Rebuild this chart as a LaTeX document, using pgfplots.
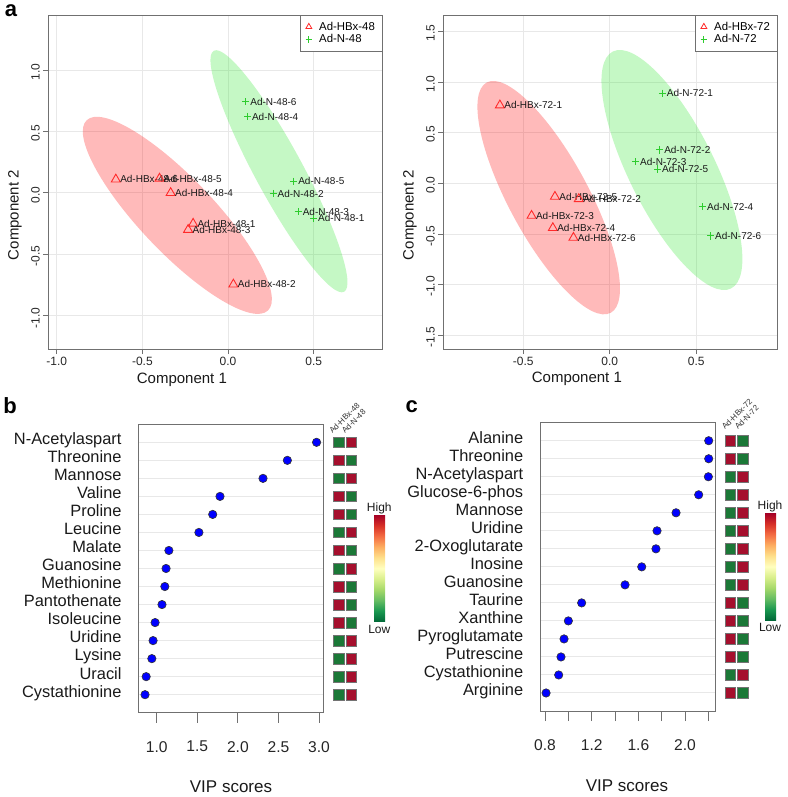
\documentclass[border=0pt]{standalone}
\usepackage{pgfplots}
\pgfplotsset{compat=1.18}
\usepackage{fontspec}
\setmainfont{Liberation Sans}
\definecolor{hmred}{HTML}{A50F2D}
\definecolor{hmgreen}{HTML}{1B7837}
\definecolor{ptred}{HTML}{FF2A2A}
\definecolor{ptgreen}{HTML}{2ECC2E}
\definecolor{gridc}{HTML}{E8E8E8}
\definecolor{framec}{HTML}{707070}
\definecolor{ellred}{HTML}{FF0000}
\definecolor{ellgreen}{HTML}{28E628}
\definecolor{c0}{HTML}{006837}
\definecolor{c1}{HTML}{1A9850}
\definecolor{c2}{HTML}{66BD63}
\definecolor{c3}{HTML}{A6D96A}
\definecolor{c4}{HTML}{D9EF8B}
\definecolor{c5}{HTML}{FFFFBF}
\definecolor{c6}{HTML}{FEE08B}
\definecolor{c7}{HTML}{FDAE61}
\definecolor{c8}{HTML}{F46D43}
\definecolor{c9}{HTML}{D73027}
\definecolor{c10}{HTML}{A50026}
\pgfdeclareverticalshading{rdylgn}{100bp}{color(0bp)=(c0); color(25bp)=(c0); color(30bp)=(c1); color(35bp)=(c2); color(40bp)=(c3); color(45bp)=(c4); color(50bp)=(c5); color(55bp)=(c6); color(60bp)=(c7); color(65bp)=(c8); color(70bp)=(c9); color(75bp)=(c10); color(100bp)=(c10)}
\pgfplotsset{
  /pgf/number format/assume math mode=true,
  pca/.style={scale only axis, width=334pt, height=334pt,
    axis line style={framec, line width=0.8pt},
    tick style={framec, line width=0.8pt}, tick align=outside, major tick length=5pt,
    xtick pos=bottom, ytick pos=left,
    grid=major, major grid style={gridc, line width=0.8pt},
    xticklabel style={font=\fontsize{12}{14}\selectfont, text=black!85,
      /pgf/number format/fixed, /pgf/number format/fixed zerofill, /pgf/number format/precision=1},
    yticklabel style={font=\fontsize{12}{14}\selectfont, text=black!85, rotate=90, anchor=south, xshift=-2pt,
      /pgf/number format/fixed, /pgf/number format/fixed zerofill, /pgf/number format/precision=1},
    label style={font=\fontsize{15}{18}\selectfont, text=black!90},
    legend style={at={(1,1)}, anchor=north east, draw=framec, line width=0.8pt,
      font=\fontsize{11.4}{13}\selectfont, inner xsep=5pt, inner ysep=4.5pt,
      cells={anchor=west}, row sep=-1pt,
      /tikz/every odd column/.append style={column sep=5pt}},
    legend image code/.code={\draw[#1] plot coordinates {(0pt,0pt)};},
  },
  hbx/.style={only marks, mark=triangle, mark size=5.2pt, ptred, line width=0.9pt,
    point meta=explicit symbolic, nodes near coords,
    nodes near coords style={text=black!90, anchor=west, inner sep=0pt, xshift=4pt, font=\fontsize{10}{12}\selectfont}},
  nn/.style={only marks, mark=+, mark size=3.6pt, ptgreen, line width=0.9pt,
    point meta=explicit symbolic, nodes near coords,
    nodes near coords style={text=black!90, anchor=west, inner sep=0pt, xshift=4pt, font=\fontsize{10}{12}\selectfont}},
  vip/.style={scale only axis, clip=false, ymin=0, ymax=16, ytick={1,...,15},
    axis line style={framec, line width=0.8pt},
    xtick pos=bottom, ytick pos=left, tick align=outside, major tick length=10pt,
    xtick style={framec, line width=0.8pt}, ytick style={draw=none},
    ymajorgrids, major grid style={gridc, line width=1pt},
    xticklabel style={font=\fontsize{15.6}{18}\selectfont, text=black!85, yshift=-15pt},
    yticklabel style={font=\fontsize{16.4}{19}\selectfont, text=black!90, anchor=east, inner sep=0pt,
      text height=11.7pt, text depth=3.4pt, xshift=-6.6pt, yshift=1.8pt},
    label style={font=\fontsize{17}{20}\selectfont, text=black!90},
  },
  dots/.style={only marks, mark=*, mark size=4.2pt, mark options={fill=blue, draw=black!80, line width=0.6pt}},
  sqr/.style={only marks, mark=square*, mark size=5.3pt, mark options={fill=hmred, draw=black!55, line width=0.6pt}},
  sqg/.style={only marks, mark=square*, mark size=5.3pt, mark options={fill=hmgreen, draw=black!55, line width=0.6pt}},
}
\begin{document}
\begin{tikzpicture}
\useasboundingbox (0,0) rectangle (787pt,-797pt);
% ---------------- panel a, left
\begin{axis}[pca, at={(48.3pt,-15pt)}, anchor=north west,
  xmin=-1.049, xmax=0.900, ymin=-1.271, ymax=1.448,
  xtick={-1,-0.5,0,0.5}, ytick={-1,-0.5,0,0.5,1},
  xlabel={Component 1}, ylabel={Component 2},
  xlabel style={at={(axis description cs:0.40,-0.093)}, anchor=center},
  ylabel style={at={(axis description cs:-0.100,0.401)}, anchor=center}]
\fill[ellred, fill opacity=0.27, rotate around={-46.4:(axis cs:-0.296,-0.183)}] (axis cs:-0.296,-0.183) ellipse [x radius=131.4pt, y radius=37.1pt];
\fill[ellgreen, fill opacity=0.27, rotate around={-61.6:(axis cs:0.297,0.176)}] (axis cs:0.297,0.176) ellipse [x radius=137pt, y radius=24pt];
\addlegendimage{only marks, mark=triangle, mark size=3.4pt, ptred, line width=0.8pt}
\addlegendentry{Ad-HBx-48}
\addlegendimage{only marks, mark=+, mark size=3.3pt, ptgreen, line width=1.1pt}
\addlegendentry{Ad-N-48}
\addplot[hbx, forget plot] table[meta=lab] {
x y lab
-0.655 0.110 Ad-HBx-48-6
-0.400 0.117 Ad-HBx-48-5
-0.335 0.000 Ad-HBx-48-4
-0.204 -0.250 Ad-HBx-48-1
-0.233 -0.300 Ad-HBx-48-3
0.031 -0.745 Ad-HBx-48-2
};
\addplot[nn, forget plot] table[meta=lab] {
x y lab
0.104 0.743 Ad-N-48-6
0.114 0.621 Ad-N-48-4
0.384 0.095 Ad-N-48-5
0.263 -0.005 Ad-N-48-2
0.410 -0.154 Ad-N-48-3
0.500 -0.208 Ad-N-48-1
};
\end{axis}
% ---------------- panel a, right
\begin{axis}[pca, at={(443.3pt,-15pt)}, anchor=north west,
  xmin=-0.962, xmax=0.968, ymin=-1.636, ymax=1.661,
  xtick={-0.5,0,0.5}, ytick={-1.5,-1,-0.5,0,0.5,1,1.5},
  xlabel={Component 1}, ylabel={Component 2},
  xlabel style={at={(axis description cs:0.40,-0.090)}, anchor=center},
  ylabel style={at={(axis description cs:-0.100,0.401)}, anchor=center}]
\fill[ellred, fill opacity=0.27, rotate around={-61.7:(axis cs:-0.353,-0.142)}] (axis cs:-0.353,-0.142) ellipse [x radius=130.8pt, y radius=39.9pt];
\fill[ellgreen, fill opacity=0.27, rotate around={-63.5:(axis cs:0.359,0.131)}] (axis cs:0.359,0.131) ellipse [x radius=132.4pt, y radius=42.9pt];
\addlegendimage{only marks, mark=triangle, mark size=3.4pt, ptred, line width=0.8pt}
\addlegendentry{Ad-HBx-72}
\addlegendimage{only marks, mark=+, mark size=3.3pt, ptgreen, line width=1.1pt}
\addlegendentry{Ad-N-72}
\addplot[hbx, forget plot] table[meta=lab] {
x y lab
-0.635 0.770 Ad-HBx-72-1
-0.317 -0.132 Ad-HBx-72-5
-0.179 -0.155 Ad-HBx-72-2
-0.452 -0.320 Ad-HBx-72-3
-0.329 -0.441 Ad-HBx-72-4
-0.210 -0.537 Ad-HBx-72-6
};
\addplot[nn, forget plot] table[meta=lab] {
x y lab
0.304 0.888 Ad-N-72-1
0.289 0.329 Ad-N-72-2
0.150 0.213 Ad-N-72-3
0.277 0.141 Ad-N-72-5
0.537 -0.231 Ad-N-72-4
0.583 -0.520 Ad-N-72-6
};
\end{axis}
% ---------------- panel b
\begin{axis}[vip, at={(138.3pt,-424.3pt)}, anchor=north west, width=185pt, height=288.4pt,
  xmin=0.773, xmax=3.053, xtick={1,1.5,2,2.5,3},
  xticklabels={1.0,1.5,2.0,2.5,3.0},
  yticklabels={Cystathionine,Uracil,Lysine,Uridine,Isoleucine,Pantothenate,Methionine,Guanosine,Malate,Leucine,Proline,Valine,Mannose,Threonine,N-Acetylaspart},
  xlabel={VIP scores}, xlabel style={at={(axis description cs:0.501,-0.258)}, anchor=center}]
\addplot[dots] table {
x y
2.970 15
2.610 14
2.310 13
1.780 12
1.690 11
1.520 10
1.150 9
1.115 8
1.100 7
1.065 6
0.980 5
0.955 4
0.940 3
0.870 2
0.856 1
};
\addplot[sqr] coordinates {(3.241,14) (3.241,12) (3.241,11) (3.241,9) (3.241,7) (3.241,6) (3.241,5)
  (3.397,15) (3.397,13) (3.397,10) (3.397,8) (3.397,4) (3.397,3) (3.397,2) (3.397,1)};
\addplot[sqg] coordinates {(3.397,14) (3.397,12) (3.397,11) (3.397,9) (3.397,7) (3.397,6) (3.397,5)
  (3.241,15) (3.241,13) (3.241,10) (3.241,8) (3.241,4) (3.241,3) (3.241,2) (3.241,1)};
\end{axis}
% ---------------- panel c
\begin{axis}[vip, at={(540pt,-422.7pt)}, anchor=north west, width=175pt, height=288.3pt,
  xmin=0.757, xmax=2.257, xtick={0.8,1,1.2,1.4,1.6,1.8,2,2.2},
  xticklabels={0.8,,1.2,,1.6,,2.0,},
  yticklabels={Arginine,Cystathionine,Putrescine,Pyroglutamate,Xanthine,Taurine,Guanosine,Inosine,2-Oxoglutarate,Uridine,Mannose,Glucose-6-phos,N-Acetylaspart,Threonine,Alanine},
  xlabel={VIP scores}, xlabel style={at={(axis description cs:0.497,-0.260)}, anchor=center}]
\addplot[dots] table {
x y
2.203 15
2.203 14
2.200 13
2.117 12
1.923 11
1.760 10
1.751 9
1.629 8
1.486 7
1.114 6
1.000 5
0.963 4
0.937 3
0.917 2
0.809 1
};
\addplot[sqr] coordinates {(2.388,15) (2.388,14) (2.388,6) (2.388,5) (2.388,4) (2.388,3) (2.388,1)
  (2.497,13) (2.497,12) (2.497,11) (2.497,10) (2.497,9) (2.497,8) (2.497,7) (2.497,2)};
\addplot[sqg] coordinates {(2.497,15) (2.497,14) (2.497,6) (2.497,5) (2.497,4) (2.497,3) (2.497,1)
  (2.388,13) (2.388,12) (2.388,11) (2.388,10) (2.388,9) (2.388,8) (2.388,7) (2.388,2)};
\end{axis}
% ---------------- colour keys and column labels
\shade[shading=rdylgn] (374pt,-621.7pt) rectangle (385pt,-515pt);
\node[font=\fontsize{12}{14}\selectfont, text=black!90] at (379.3pt,-508pt) {High};
\node[font=\fontsize{12}{14}\selectfont, text=black!90] at (379.3pt,-629.3pt) {Low};
\shade[shading=rdylgn] (765pt,-620pt) rectangle (776pt,-513.3pt);
\node[font=\fontsize{12}{14}\selectfont, text=black!90] at (770pt,-506pt) {High};
\node[font=\fontsize{12}{14}\selectfont, text=black!90] at (770pt,-627.7pt) {Low};
\node[rotate=45, anchor=base west, inner sep=0pt, font=\fontsize{8}{9}\selectfont, text=black!80] at (332.5pt,-434pt) {Ad-HBx-48};
\node[rotate=45, anchor=base west, inner sep=0pt, font=\fontsize{8}{9}\selectfont, text=black!80] at (345pt,-434pt) {Ad-N-48};
\node[rotate=45, anchor=base west, inner sep=0pt, font=\fontsize{8}{9}\selectfont, text=black!80] at (725pt,-430pt) {Ad-HBx-72};
\node[rotate=45, anchor=base west, inner sep=0pt, font=\fontsize{8}{9}\selectfont, text=black!80] at (738pt,-430pt) {Ad-N-72};
% ---------------- panel letters
\node[font=\fontsize{22}{24}\selectfont\bfseries, anchor=center] at (11pt,-11pt) {a};
\node[font=\fontsize{22}{24}\selectfont\bfseries, anchor=center] at (10pt,-406pt) {b};
\node[font=\fontsize{22}{24}\selectfont\bfseries, anchor=center] at (411.7pt,-407pt) {c};
\end{tikzpicture}
\end{document}
